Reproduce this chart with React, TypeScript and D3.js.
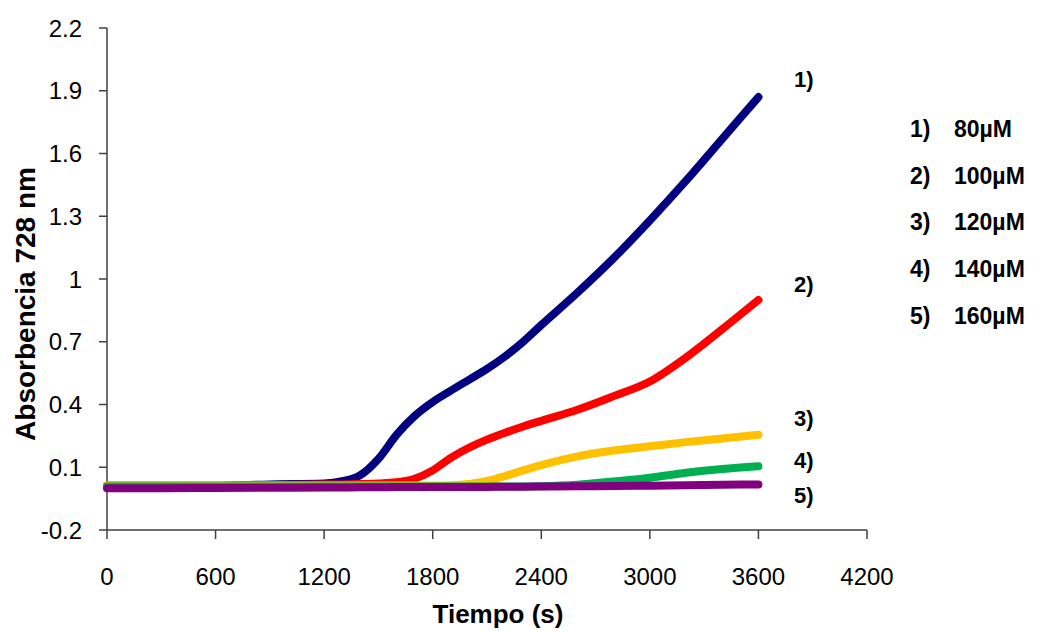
import React from 'react';
import * as d3 from 'd3';

// time points (s) shared by every series
const times = [0, 300, 600, 900, 1200, 1300, 1400, 1500, 1600, 1700, 1800, 1900, 2000, 2100, 2200, 2300, 2400, 2600, 2800, 3000, 3200, 3400, 3600];

const serie80 = [0.012, 0.012, 0.012, 0.018, 0.022, 0.033, 0.062, 0.14, 0.255, 0.345, 0.412, 0.466, 0.518, 0.57, 0.63, 0.7, 0.78, 0.935, 1.1, 1.28, 1.47, 1.67, 1.87];
const serie100 = [0.012, 0.012, 0.012, 0.015, 0.017, 0.018, 0.02, 0.022, 0.028, 0.045, 0.085, 0.145, 0.193, 0.232, 0.265, 0.295, 0.322, 0.375, 0.44, 0.51, 0.625, 0.76, 0.9];
const serie120 = [0.013, 0.013, 0.013, 0.013, 0.013, 0.013, 0.013, 0.013, 0.013, 0.013, 0.013, 0.014, 0.02, 0.035, 0.058, 0.085, 0.11, 0.152, 0.18, 0.2, 0.22, 0.237, 0.255];
const serie140 = [0.008, 0.008, 0.008, 0.008, 0.008, 0.008, 0.008, 0.008, 0.008, 0.008, 0.008, 0.008, 0.008, 0.008, 0.008, 0.008, 0.009, 0.016, 0.032, 0.05, 0.074, 0.092, 0.105];
const serie160 = [0.0, 0.0, 0.001, 0.002, 0.003, 0.003, 0.004, 0.004, 0.005, 0.005, 0.005, 0.006, 0.006, 0.006, 0.007, 0.007, 0.008, 0.009, 0.01, 0.012, 0.014, 0.016, 0.018];

const series = [serie80, serie100, serie120, serie140, serie160];
const colors = ['#000080', '#FF0000', '#FFC000', '#00B050', '#800080'];
const curveLabels = ['1)', '2)', '3)', '4)', '5)'];
const legendLabels = ['80\u00B5M', '100\u00B5M', '120\u00B5M', '140\u00B5M', '160\u00B5M'];

const xTicks = [0, 600, 1200, 1800, 2400, 3000, 3600, 4200];
const yTicks = [-0.2, 0.1, 0.4, 0.7, 1, 1.3, 1.6, 1.9, 2.2];

const W = 1037;
const H = 631;
const font = '"Liberation Sans", Arial, sans-serif';
const axisColor = '#404040';

const x = d3.scaleLinear().domain([0, 4200]).range([107, 867]);
const y = d3.scaleLinear().domain([-0.2, 2.2]).range([530, 28]);

const line = d3
  .line<number>()
  .x((_, i) => x(times[i]))
  .y((d) => y(d))
  .curve(d3.curveMonotoneX);

// label baselines (px)
const curveLabelY = [87, 292, 426, 468, 503];

const App: React.FC = () => {
  return (
    <svg
      width={W}
      height={H}
      style={{ position: 'absolute', left: 0, top: 0, background: '#fff' }}
      fontFamily={font}
    >
      {/* axes */}
      <line x1={x(0)} x2={x(0)} y1={y(2.2)} y2={y(-0.2)} stroke={axisColor} strokeWidth={1.5} />
      <line x1={x(0)} x2={x(4200)} y1={y(-0.2)} y2={y(-0.2)} stroke={axisColor} strokeWidth={1.5} />
      {yTicks.map((t) => (
        <g key={'y' + t}>
          <line x1={x(0) - 8} x2={x(0)} y1={y(t)} y2={y(t)} stroke={axisColor} strokeWidth={1.5} />
          <text x={82} y={y(t)} dy="0.36em" textAnchor="end" fontSize={24} fill="#000">
            {String(t)}
          </text>
        </g>
      ))}
      {xTicks.map((t) => (
        <g key={'x' + t}>
          <line x1={x(t)} x2={x(t)} y1={y(-0.2)} y2={y(-0.2) + 9} stroke={axisColor} strokeWidth={1.5} />
          <text x={x(t)} y={585} textAnchor="middle" fontSize={24} fill="#000">
            {String(t)}
          </text>
        </g>
      ))}

      {/* axis titles */}
      <text x={498} y={623} textAnchor="middle" fontSize={26} fontWeight="bold" fill="#000">
        Tiempo (s)
      </text>
      <text
        transform={`translate(35, 304) rotate(-90)`}
        textAnchor="middle"
        fontSize={28}
        fontWeight="bold"
        fill="#000"
      >
        Absorbencia 728 nm
      </text>

      {/* curves */}
      {series.map((s, i) => (
        <path
          key={'s' + i}
          d={line(s) || ''}
          fill="none"
          stroke={colors[i]}
          strokeWidth={8}
          strokeLinecap="round"
          strokeLinejoin="round"
        />
      ))}

      {/* curve labels */}
      {curveLabels.map((l, i) => (
        <text key={'c' + i} x={794} y={curveLabelY[i]} fontSize={22} fontWeight="bold" fill="#000">
          {l}
        </text>
      ))}

      {/* legend */}
      {legendLabels.map((l, i) => (
        <g key={'l' + i}>
          <text x={910} y={137 + i * 46.7} fontSize={23} fontWeight="bold" fill="#000">
            {curveLabels[i]}
          </text>
          <text x={954} y={137 + i * 46.7} fontSize={23} fontWeight="bold" fill="#000">
            {l}
          </text>
        </g>
      ))}
    </svg>
  );
};

export default App;
